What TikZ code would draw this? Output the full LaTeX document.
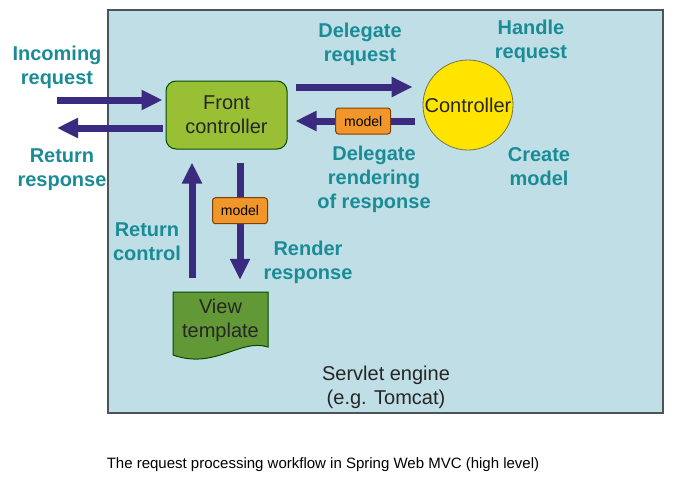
\documentclass[tikz,border=0pt]{standalone}
\usepackage{fontspec}
\setmainfont{Liberation Sans}
\usetikzlibrary{arrows.meta}

\definecolor{enginebg}{RGB}{191,222,230}
\definecolor{engineline}{RGB}{75,85,88}
\definecolor{frontgreen}{RGB}{153,192,52}
\definecolor{viewgreen}{RGB}{98,152,54}
\definecolor{ctrlyellow}{RGB}{255,228,0}
\definecolor{modelorange}{RGB}{240,150,42}
\definecolor{flowblue}{RGB}{58,42,128}
\definecolor{stageteal}{RGB}{26,140,150}

\tikzset{
  flow/.style={line width=7pt, draw=flowblue, -{Triangle[width=19pt,length=21pt]}},
  stagetext/.style={text=stageteal, align=center, inner sep=0pt,
    font=\fontsize{20}{24}\selectfont\bfseries},
  boxtext/.style={align=center, inner sep=0pt, text=black!85,
    font=\fontsize{20}{24}\selectfont},
  frontbox/.style={boxtext, draw=black!70!green, line width=1pt, fill=frontgreen,
    rounded corners=10pt, minimum width=121pt, minimum height=68pt},
  ctrlcircle/.style={boxtext, circle, draw=black!60!yellow, line width=0.8pt,
    fill=ctrlyellow, minimum size=90pt},
  modelbox/.style={draw=black!50!orange, line width=1pt, fill=modelorange,
    rounded corners=3pt, minimum width=55pt, minimum height=26pt, inner sep=0pt,
    font=\fontsize{14}{16}\selectfont},
}

\begin{document}
\begin{tikzpicture}[x=1pt, y=-1pt]
  \useasboundingbox (0,0) rectangle (673,477);

  % 1. Servlet engine area
  \draw[fill=enginebg, draw=engineline, line width=1.5pt] (108,10) rectangle (663,413);
  \node[boxtext] (engine) at (386,387) {Servlet engine\\(e.g. Tomcat)};

  % 2. Boxes
  \node[frontbox] (front) at (226.5,115) {Front\\controller};
  \node[ctrlcircle] (ctrl) at (468,105) {Controller};

  % View template: page with a wavy lower edge
  \draw[fill=viewgreen, draw=black!70!green, line width=1pt]
    (173,292) -- (268,292) -- (268,347)
    .. controls (240,338) and (215,370) .. (173,355) -- cycle;
  \node[boxtext, minimum width=95pt, minimum height=56pt] (view) at (220.5,320) {View\\template};

  % 3. Arrows
  \coordinate (inc) at (57,100);
  \coordinate (ret) at (57,128);
  \coordinate (dlg) at (0,87);
  \coordinate (bck) at (0,121);
  \coordinate (dwn) at (240,0);
  \coordinate (upx) at (192,0);

  \draw[flow, shorten >=3pt] (inc) -- (inc -| front.west);
  \draw[flow, shorten <=3pt] (ret -| front.west) -- (ret);
  \draw[flow, shorten <=8pt, shorten >=10pt] (front.east |- dlg) -- (ctrl.west |- dlg);
  \draw[flow, shorten <=8pt, shorten >=8pt] (ctrl.west |- bck) -- (front.east |- bck)
    node[modelbox, pos=0.44] (mdlback) {model};
  \draw[flow, shorten <=13pt, shorten >=12pt] (front.south -| dwn) -- (view.north -| dwn)
    node[modelbox, pos=0.43] (mdldown) {model};
  \draw[flow, shorten <=14pt, shorten >=13pt] (view.north -| upx) -- (front.south -| upx);

  % 4. Step labels
  \node[stagetext] (lblinc) at (57,67) {Incoming\\request};
  \node[stagetext] (lblret) at (62,170) {Return\\response};
  \node[stagetext] (lbldlg) at (360,44) {Delegate\\request};
  \node[stagetext] (lblhandle) at (531,41) {Handle\\request};
  \node[stagetext] (lblrend) at (374,179) {Delegate\\rendering\\of response};
  \node[stagetext] (lblcreate) at (539,167) {Create\\model};
  \node[stagetext] (lblretctrl) at (147,242) {Return\\control};
  \node[stagetext] (lblrender) at (308,262) {Render\\response};

  % 5. Caption
  \node[inner sep=0pt, font=\fontsize{15}{18}\selectfont] (caption) at (323,465)
    {The request processing workflow in Spring Web MVC (high level)};
\end{tikzpicture}
\end{document}
